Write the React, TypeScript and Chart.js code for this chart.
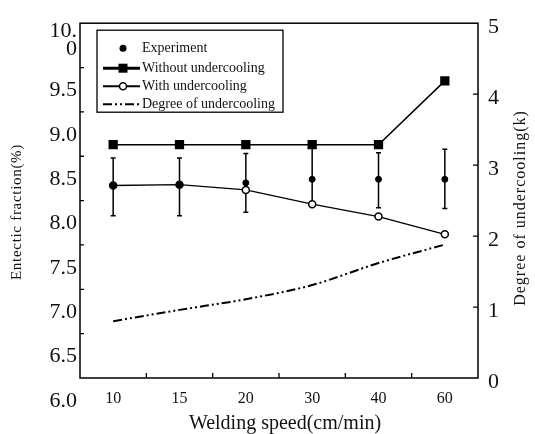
import React, { useEffect, useRef } from "react";
import { Chart, registerables } from "chart.js";

Chart.register(...registerables);

const FONT = "'Liberation Serif', 'Times New Roman', serif";

const categories = ["10", "15", "20", "30", "40", "60"];
const experiment = [8.17, 8.18, 8.2, 8.24, 8.24, 8.24];
const experimentHigh = [8.48, 8.48, 8.53, 8.61, 8.54, 8.58];
const experimentLow = [7.83, 7.83, 7.87, 7.94, 7.92, 7.91];
const withoutUndercooling = [8.63, 8.63, 8.63, 8.63, 8.63, 9.35];
const withUndercooling = [8.17, 8.18, 8.12, 7.96, 7.82, 7.62];
const degreeOfUndercooling = [0.8, 0.96, 1.11, 1.31, 1.62, 1.88];

const leftTicks = [6.0, 6.5, 7.0, 7.5, 8.0, 8.5, 9.0, 9.5, 10.0];
const rightTicks = [0, 1, 2, 3, 4, 5];
const topLeftTickLabel = ["10.", "0"];

const legendLabels = [
  "Experiment",
  "Without undercooling",
  "With undercooling",
  "Degree of undercooling",
];
const xTitle = "Welding speed(cm/min)";
const yTitle = "Entectic fraction(%)";
const y1Title = "Degree of undercooling(k)";

const DEGREE_DASH = [9, 3, 2, 3, 2, 3];

const paperPlugin = {
  id: "paper",
  beforeDatasetsDraw(chart: any) {
    const ctx = chart.ctx;
    const x = chart.scales.x;
    const y = chart.scales.y;
    ctx.save();
    ctx.strokeStyle = "#000";
    ctx.lineWidth = 1.5;
    for (let i = 0; i < experiment.length; i++) {
      const px = x.getPixelForValue(i);
      const hi = y.getPixelForValue(experimentHigh[i]);
      const lo = y.getPixelForValue(experimentLow[i]);
      ctx.beginPath();
      ctx.moveTo(px, hi);
      ctx.lineTo(px, lo);
      ctx.moveTo(px - 2.5, hi);
      ctx.lineTo(px + 2.5, hi);
      ctx.moveTo(px - 2.5, lo);
      ctx.lineTo(px + 2.5, lo);
      ctx.stroke();
    }
    ctx.restore();
  },
  afterDraw(chart: any) {
    const ctx = chart.ctx;
    const { left, right, top, bottom } = chart.chartArea;
    const x = chart.scales.x;
    const y = chart.scales.y;
    const y1 = chart.scales.y1;
    ctx.save();
    ctx.strokeStyle = "#000";
    ctx.fillStyle = "#111";
    // frame
    ctx.lineWidth = 1.5;
    ctx.strokeRect(left, top, right - left, bottom - top);
    // inward ticks
    ctx.lineWidth = 1.3;
    ctx.beginPath();
    leftTicks.forEach((v) => {
      if (v === leftTicks[0] || v === leftTicks[leftTicks.length - 1]) return;
      const py = y.getPixelForValue(v);
      ctx.moveTo(left, py);
      ctx.lineTo(left + 4, py);
    });
    rightTicks.forEach((v) => {
      if (v === rightTicks[0] || v === rightTicks[rightTicks.length - 1]) return;
      const py = y1.getPixelForValue(v);
      ctx.moveTo(right, py);
      ctx.lineTo(right - 5, py);
    });
    for (let i = 0; i < categories.length - 1; i++) {
      const px = (x.getPixelForValue(i) + x.getPixelForValue(i + 1)) / 2;
      ctx.moveTo(px, bottom);
      ctx.lineTo(px, bottom - 5);
    }
    ctx.stroke();

    // top-left tick label, broken over two lines as in the source
    const topPx = y.getPixelForValue(leftTicks[leftTicks.length - 1]);
    ctx.font = `22px ${FONT}`;
    ctx.textAlign = "right";
    ctx.textBaseline = "middle";
    ctx.fillText(topLeftTickLabel[0], left - 3, topPx + 8);
    ctx.fillText(topLeftTickLabel[1], left - 3, topPx + 26);

    // axis titles
    ctx.textAlign = "center";
    ctx.textBaseline = "middle";
    ctx.font = `20px ${FONT}`;
    ctx.fillText(xTitle, 285, 424);

    ctx.save();
    ctx.translate(17, 212);
    ctx.rotate(-Math.PI / 2);
    ctx.font = `15px ${FONT}`;
    (ctx as any).letterSpacing = "0.7px";
    ctx.fillText(yTitle, 0, 0);
    ctx.restore();

    ctx.save();
    ctx.translate(521, 208);
    ctx.rotate(-Math.PI / 2);
    ctx.font = `16px ${FONT}`;
    (ctx as any).letterSpacing = "1px";
    ctx.fillText(y1Title, 0, 0);
    ctx.restore();

    // legend box
    const bx = left + 17;
    const by = top + 7;
    const bw = 186;
    const bh = 82;
    ctx.fillStyle = "#fff";
    ctx.fillRect(bx, by, bw, bh);
    ctx.lineWidth = 1.3;
    ctx.strokeStyle = "#000";
    ctx.strokeRect(bx, by, bw, bh);
    const rows = [by + 18, by + 38, by + 56, by + 74];
    const sx0 = bx + 6;
    const sx1 = bx + 43;
    const mx = bx + 26;
    ctx.fillStyle = "#000";
    // Experiment
    ctx.beginPath();
    ctx.arc(mx, rows[0], 3.5, 0, Math.PI * 2);
    ctx.fill();
    // Without undercooling
    ctx.lineWidth = 3;
    ctx.beginPath();
    ctx.moveTo(sx0, rows[1]);
    ctx.lineTo(sx1, rows[1]);
    ctx.stroke();
    ctx.fillRect(mx - 4.5, rows[1] - 4.5, 9, 9);
    // With undercooling
    ctx.lineWidth = 2;
    ctx.beginPath();
    ctx.moveTo(sx0, rows[2]);
    ctx.lineTo(sx1, rows[2]);
    ctx.stroke();
    ctx.fillStyle = "#fff";
    ctx.lineWidth = 1.5;
    ctx.beginPath();
    ctx.arc(mx, rows[2], 3.5, 0, Math.PI * 2);
    ctx.fill();
    ctx.stroke();
    // Degree
    ctx.lineWidth = 2;
    ctx.setLineDash(DEGREE_DASH);
    ctx.beginPath();
    ctx.moveTo(sx0, rows[3]);
    ctx.lineTo(sx1, rows[3]);
    ctx.stroke();
    ctx.setLineDash([]);
    // texts
    ctx.fillStyle = "#111";
    ctx.font = `14px ${FONT}`;
    ctx.textAlign = "left";
    ctx.textBaseline = "middle";
    legendLabels.forEach((t, i) => ctx.fillText(t, bx + 45, rows[i]));
    ctx.restore();
  },
};

export default function App() {
  const ref = useRef<HTMLCanvasElement>(null);
  useEffect(() => {
    if (!ref.current) return;
    const chart = new Chart(ref.current, {
      type: "line",
      data: {
        labels: categories,
        datasets: [
          {
            label: legendLabels[0],
            data: experiment,
            yAxisID: "y",
            showLine: false,
            pointStyle: "circle",
            pointRadius: 3,
            pointBackgroundColor: "#000",
            pointBorderColor: "#000",
            borderColor: "#000",
          },
          {
            label: legendLabels[1],
            data: withoutUndercooling,
            yAxisID: "y",
            borderColor: "#000",
            borderWidth: 1.5,
            pointStyle: "rect",
            pointRadius: 5.5,
            pointBackgroundColor: "#000",
            pointBorderColor: "#000",
            tension: 0,
          },
          {
            label: legendLabels[2],
            data: withUndercooling,
            yAxisID: "y",
            borderColor: "#000",
            borderWidth: 1.3,
            pointStyle: "circle",
            pointRadius: 3.5,
            pointBackgroundColor: "#fff",
            pointBorderColor: "#000",
            pointBorderWidth: 1.5,
            tension: 0,
          },
          {
            label: legendLabels[3],
            data: degreeOfUndercooling,
            yAxisID: "y1",
            borderColor: "#000",
            borderWidth: 2,
            borderDash: DEGREE_DASH,
            pointRadius: 0,
            cubicInterpolationMode: "monotone",
          },
        ],
      } as any,
      options: {
        responsive: false,
        animation: false,
        devicePixelRatio: 1,
        layout: { padding: { top: 13, left: 0, right: 0, bottom: 0 } },
        plugins: { legend: { display: false }, tooltip: { enabled: false } },
        scales: {
          x: {
            type: "category",
            offset: true,
            grid: { display: false, drawTicks: false },
            border: { display: false },
            ticks: {
              color: "#111",
              font: { family: FONT, size: 16 },
              padding: 11,
              maxRotation: 0,
              autoSkip: false,
            },
            afterFit: (s: any) => {
              s.height = 56;
            },
          },
          y: {
            position: "left",
            min: 6,
            max: 10,
            grid: { display: false, drawTicks: false },
            border: { display: false },
            ticks: {
              stepSize: 0.5,
              autoSkip: false,
              color: "#111",
              font: { family: FONT, size: 22 },
              padding: 3,
              labelOffset: 23,
              callback: (v: any) =>
                Number(v) === 10 ? "" : Number(v).toFixed(1),
            },
            afterFit: (s: any) => {
              s.width = 80;
            },
          },
          y1: {
            position: "right",
            min: 0,
            max: 5,
            grid: { display: false, drawTicks: false },
            border: { display: false },
            ticks: {
              stepSize: 1,
              autoSkip: false,
              color: "#111",
              font: { family: FONT, size: 22 },
              padding: 10,
              labelOffset: 4,
            },
            afterFit: (s: any) => {
              s.width = 57;
            },
          },
        },
      } as any,
      plugins: [paperPlugin],
    });
    return () => chart.destroy();
  }, []);
  return (
    <div
      style={{
        position: "fixed",
        left: 0,
        top: 0,
        width: 535,
        height: 434,
        background: "#fff",
      }}
    >
      <canvas
        ref={ref}
        width={535}
        height={434}
        style={{ width: 535, height: 434, display: "block" }}
      />
    </div>
  );
}
